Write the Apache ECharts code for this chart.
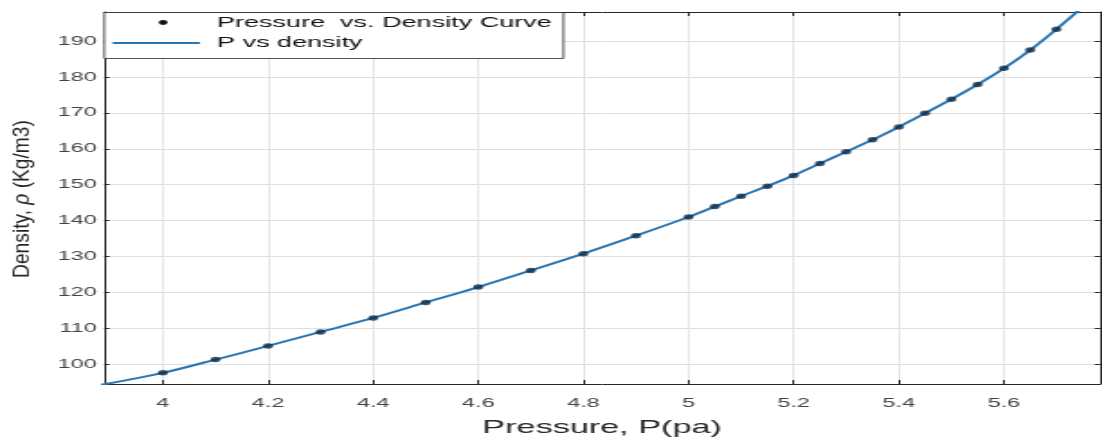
<!DOCTYPE html>
<html>
<head>
<meta charset="utf-8">
<script src="https://cdn.jsdelivr.net/npm/echarts@6/dist/echarts.min.js"></script>
<style>
  html, body { margin: 0; padding: 0; background: #fff; overflow: hidden; }
  /* 原圖被水平拉伸過，這裡用同樣的橫向拉伸 */
  #main { width: 612px; height: 442px; transform: scaleX(1.8007); transform-origin: 0 0; }
</style>
</head>
<body>
<div id="main"></div>
<script>
// 測量點 (壓力, 密度)
const pressure = [4.0, 4.1, 4.2, 4.3, 4.4, 4.5, 4.6, 4.7, 4.8, 4.9, 5.0, 5.05, 5.1, 5.15, 5.2, 5.25, 5.3, 5.35, 5.4, 5.45, 5.5, 5.55, 5.6, 5.65, 5.7];
const density = [97.6, 101.3, 105.1, 109.0, 112.9, 117.2, 121.5, 126.1, 130.8, 135.8, 141.0, 143.9, 146.8, 149.6, 152.6, 155.9, 159.2, 162.5, 166.1, 169.9, 173.8, 177.9, 182.4, 187.5, 193.3];
// 擬合曲線兩端延伸點
const curveStart = [3.88, 94.2];
const curveEnd = [5.78, 203.3];
const xTicks = [4, 4.2, 4.4, 4.6, 4.8, 5, 5.2, 5.4, 5.6];
const yTicks = [100, 110, 120, 130, 140, 150, 160, 170, 180, 190];
const seriesNames = ['Pressure  vs. Density Curve', 'P vs density'];

const chart = echarts.init(document.getElementById('main'));
const axisColor = '#262626';
const font = 'Liberation Sans, Arial, sans-serif';
const lineColor = '#2a76b3';

const points = pressure.map((p, i) => [p, density[i]]);
const curve = [curveStart].concat(points, [curveEnd]);

const xBase = {
  type: 'value', min: 3.888, max: 5.783,
  axisLine: { show: true, onZero: false, lineStyle: { color: axisColor, width: 1 } },
  axisTick: { show: true, inside: true, length: 4, customValues: xTicks, lineStyle: { color: axisColor } },
  splitLine: { show: false }
};
const yBase = {
  type: 'value', min: 94.5, max: 198.1,
  axisLine: { show: true, onZero: false, lineStyle: { color: axisColor, width: 1 } },
  axisTick: { show: true, inside: true, length: 3, customValues: yTicks, lineStyle: { color: axisColor } },
  splitLine: { show: false }
};

const option = {
  backgroundColor: '#fff',
  animation: false,
  grid: { left: 57.8, right: 1.1, top: 12, bottom: 52, show: false },
  xAxis: [
    Object.assign({}, xBase, {
      position: 'bottom',
      name: 'Pressure, P(pa)', nameLocation: 'middle', nameGap: 34,
      nameTextStyle: { fontFamily: font, fontSize: 19, color: axisColor },
      axisLabel: { customValues: xTicks, fontFamily: font, fontSize: 13, color: '#444', margin: 13 },
      splitLine: { show: true, customValues: xTicks, lineStyle: { color: '#e4e4e4', width: 1 } }
    }),
    Object.assign({}, xBase, { position: 'top', axisLabel: { show: false } })
  ],
  yAxis: [
    Object.assign({}, yBase, {
      position: 'left',
      axisLabel: { customValues: yTicks, fontFamily: font, fontSize: 13, color: '#444', margin: 4 },
      splitLine: { show: true, customValues: yTicks, lineStyle: { color: '#dedede', width: 1 } }
    }),
    Object.assign({}, yBase, { position: 'right', axisLabel: { show: false } })
  ],
  series: [
    {
      name: seriesNames[1], type: 'line', data: curve, smooth: 0.3,
      showSymbol: false, clip: true, z: 2,
      lineStyle: { color: lineColor, width: 2 }
    },
    {
      name: seriesNames[0], type: 'scatter', data: points, z: 3,
      symbol: 'circle', symbolSize: 5.5,
      itemStyle: { color: '#0e2b47' }
    }
  ],
  graphic: [
    // y 軸標題 (旋轉後沿文字方向拉長)
    {
      type: 'text', x: 12.5, y: 199, rotation: Math.PI / 2, scaleX: 1.6, z: 50,
      style: {
        text: '{a|Density, }{b|ρ}{a| (Kg/m3)}', align: 'center', verticalAlign: 'middle',
        rich: {
          a: { fontFamily: font, fontSize: 12, fill: axisColor },
          b: { fontFamily: font, fontSize: 12, fontStyle: 'italic', fill: axisColor }
        }
      }
    },
    // 圖例
    { type: 'rect', shape: { x: 57.9, y: 12.5, width: 255, height: 46 }, style: { fill: '#fff', stroke: axisColor, lineWidth: 0.8 }, z: 100 },
    { type: 'circle', shape: { cx: 90.6, cy: 22.5, r: 2.4 }, style: { fill: '#111' }, z: 101 },
    { type: 'line', shape: { x1: 62.5, y1: 43, x2: 111, y2: 43 }, style: { stroke: lineColor, lineWidth: 2 }, z: 101 },
    { type: 'text', x: 120.5, y: 22.5, style: { text: seriesNames[0], font: '15px ' + font, fill: '#111', verticalAlign: 'middle' }, z: 101 },
    { type: 'text', x: 120.5, y: 43, style: { text: seriesNames[1], font: '15px ' + font, fill: '#111', verticalAlign: 'middle' }, z: 101 }
  ]
};

chart.setOption(option);
</script>
</body>
</html>
